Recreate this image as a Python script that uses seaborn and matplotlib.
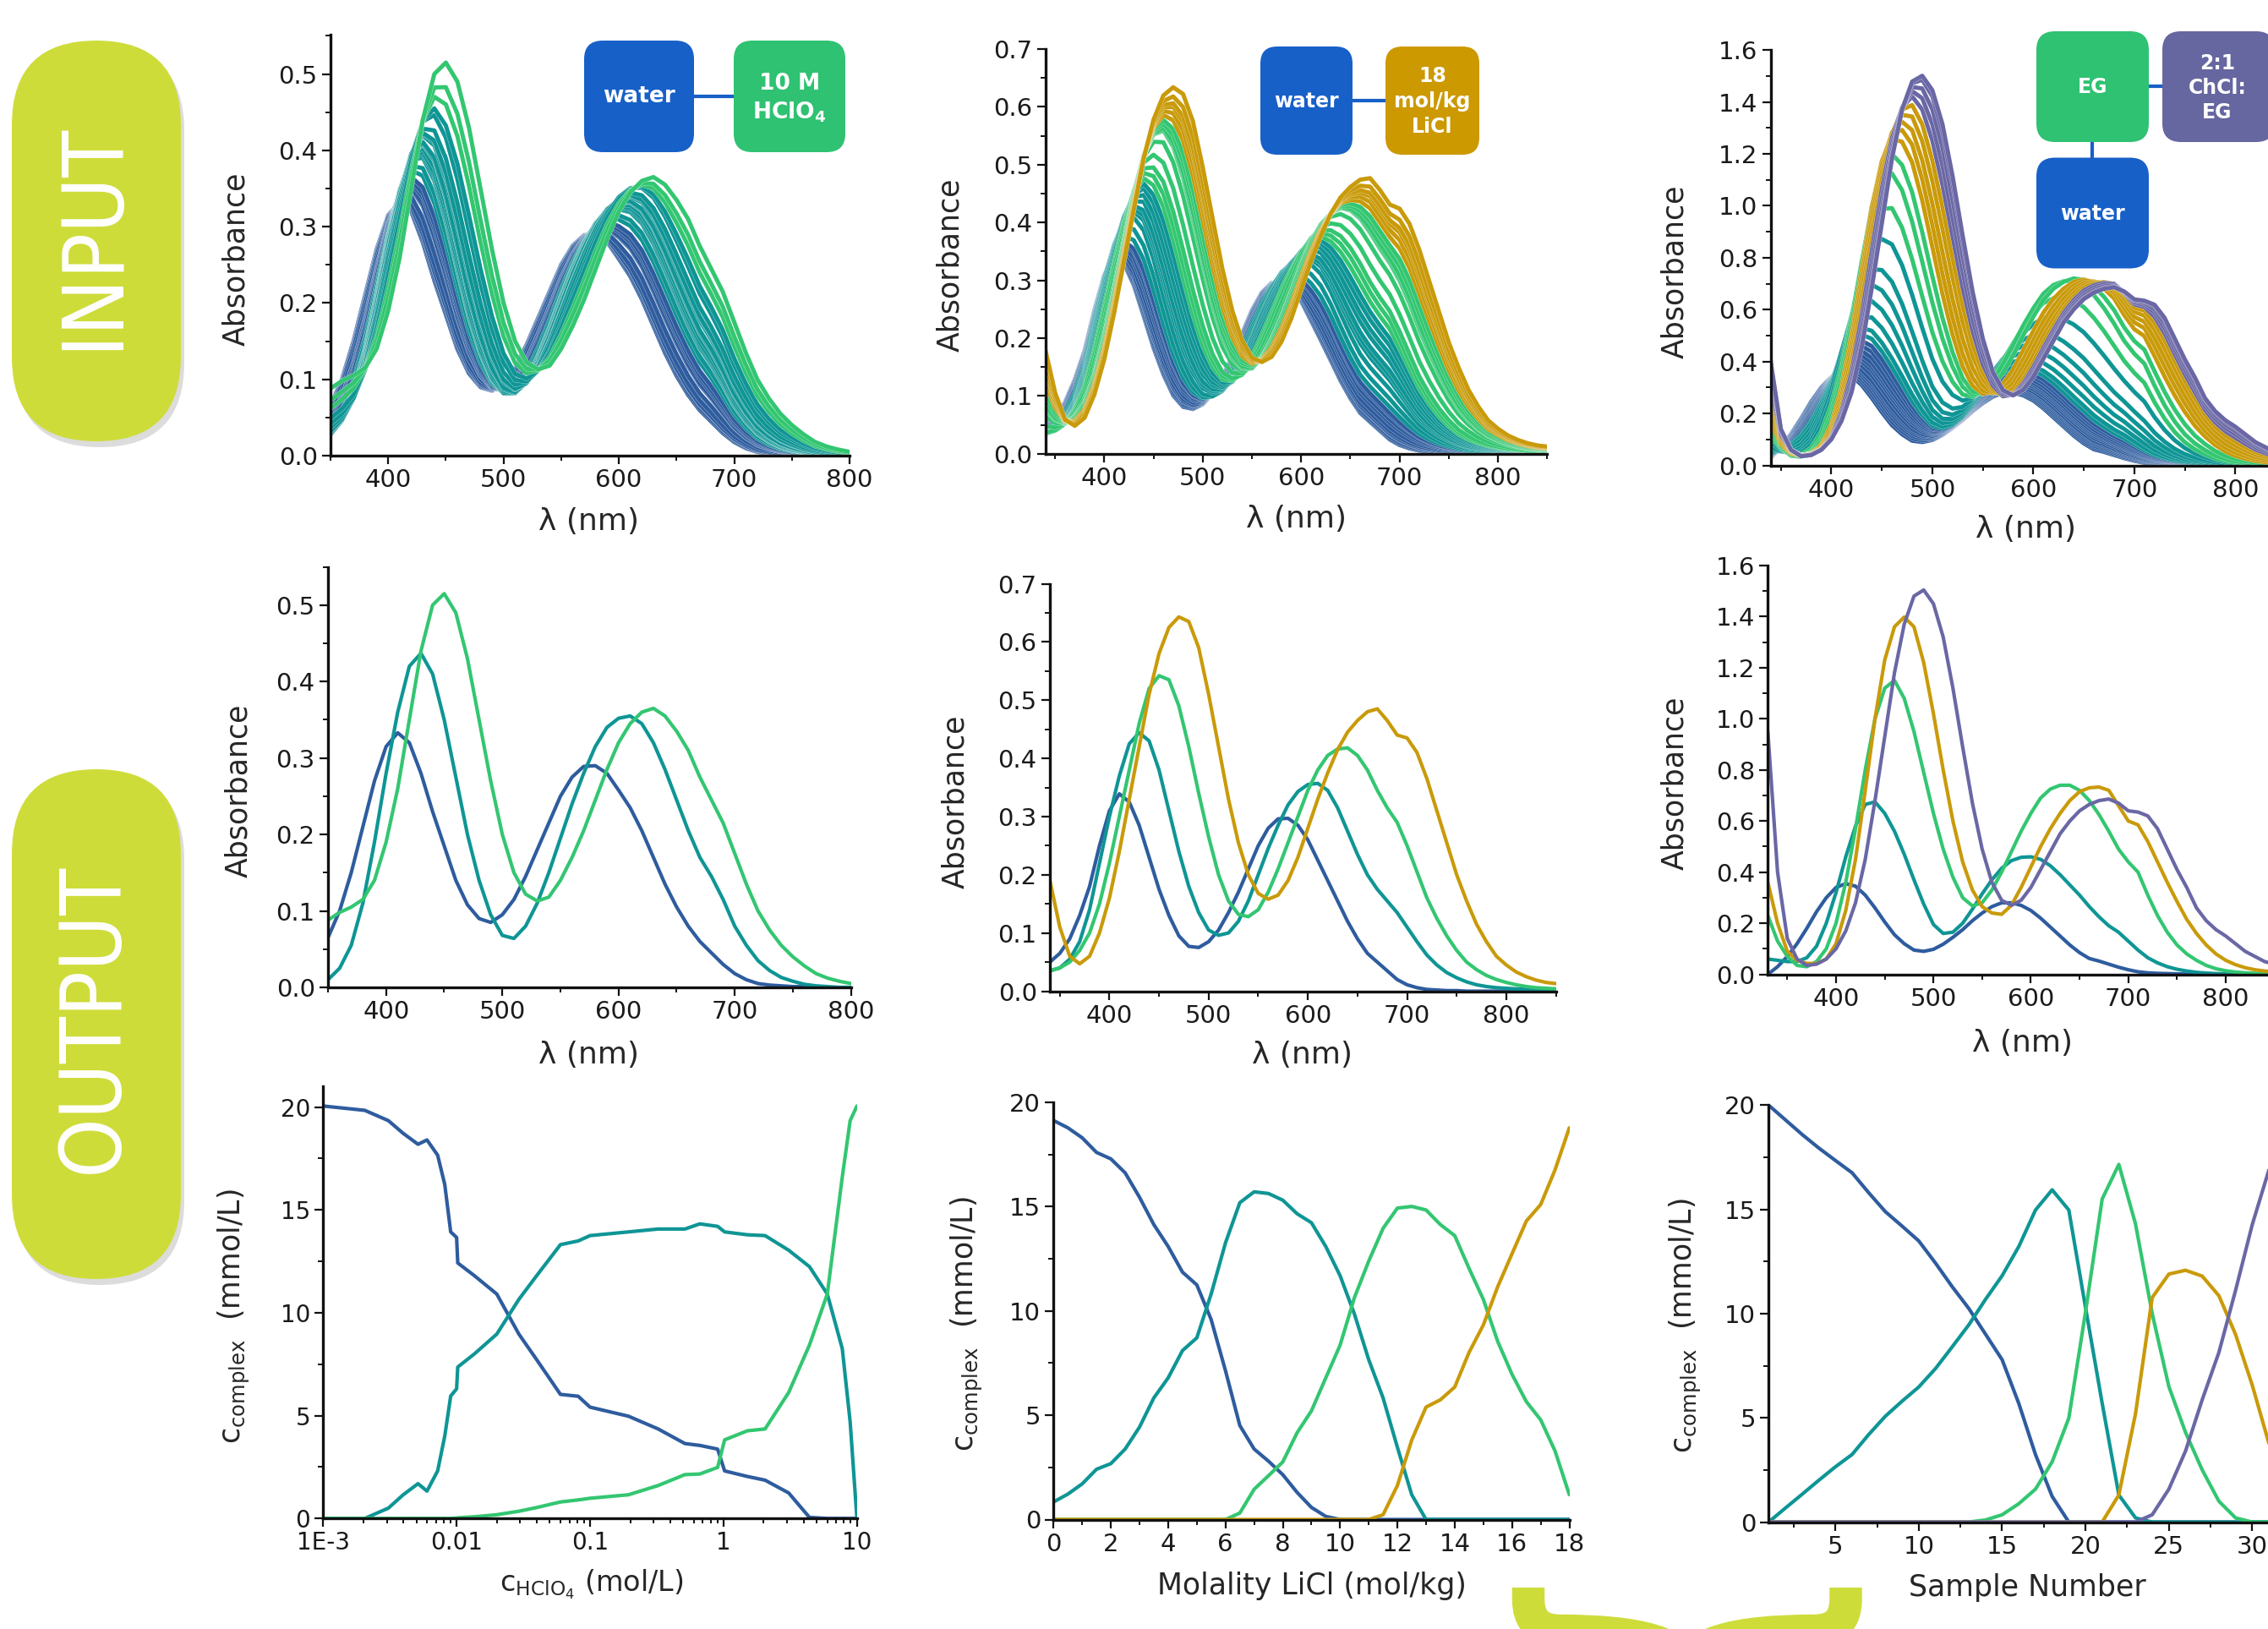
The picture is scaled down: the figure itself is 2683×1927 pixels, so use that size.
import numpy as np
import pandas as pd
import seaborn as sns
import matplotlib
matplotlib.use("Agg")
import matplotlib.pyplot as plt
import matplotlib.patheffects as pe
from matplotlib.patches import FancyBboxPatch, PathPatch
from matplotlib.path import Path
from matplotlib.ticker import MultipleLocator, FormatStrFormatter, LogLocator, NullFormatter

# ---------------- colours ----------------
BLUE = "#2E5C9E"
TEAL = "#0F9595"
GREEN = "#33C671"
GOLD = "#C99A0A"
PURPLE = "#6A67A5"
BOX_WATER = "#1760C8"
BOX_GREEN = "#2EC272"
BOX_GOLD = "#CC9900"
BOX_PURPLE = "#6666A0"
PILL = "#CEDC3A"

# ---------------- pure component spectra ----------------
wl_hclo4 = np.arange(350, 801, 10)
blue_h = [0.065, 0.100, 0.150, 0.210, 0.270,
          0.315, 0.333, 0.320, 0.280, 0.230,
          0.185, 0.140, 0.108, 0.090, 0.085,
          0.095, 0.115, 0.145, 0.180, 0.215,
          0.250, 0.275, 0.289, 0.290, 0.280,
          0.258, 0.235, 0.205, 0.170, 0.135,
          0.105, 0.080, 0.060, 0.045, 0.030,
          0.018, 0.010, 0.005, 0.003, 0.002,
          0.001, 0.001, 0.000, 0.000, 0.000,
          0.000]
teal_h = [0.010, 0.025, 0.055, 0.110, 0.190,
          0.280, 0.360, 0.420, 0.437, 0.410,
          0.350, 0.275, 0.200, 0.140, 0.095,
          0.068, 0.064, 0.080, 0.110, 0.150,
          0.195, 0.240, 0.280, 0.315, 0.340,
          0.352, 0.355, 0.345, 0.320, 0.285,
          0.245, 0.205, 0.170, 0.145, 0.115,
          0.080, 0.055, 0.035, 0.022, 0.013,
          0.008, 0.004, 0.002, 0.001, 0.000,
          0.000]
green_h = [0.088, 0.098, 0.105, 0.115, 0.140,
           0.190, 0.260, 0.350, 0.440, 0.500,
           0.515, 0.490, 0.430, 0.350, 0.270,
           0.200, 0.150, 0.122, 0.113, 0.118,
           0.140, 0.170, 0.205, 0.245, 0.285,
           0.320, 0.345, 0.360, 0.365, 0.355,
           0.335, 0.310, 0.275, 0.245, 0.215,
           0.175, 0.135, 0.100, 0.075, 0.055,
           0.040, 0.028, 0.018, 0.012, 0.008,
           0.005]

wl_licl = np.arange(340, 851, 10)
blue_l = [0.050, 0.065, 0.090, 0.130, 0.180,
          0.250, 0.310, 0.339, 0.325, 0.285,
          0.230, 0.175, 0.130, 0.095, 0.077,
          0.075, 0.085, 0.105, 0.135, 0.170,
          0.210, 0.250, 0.280, 0.296, 0.297,
          0.285, 0.260, 0.225, 0.190, 0.155,
          0.120, 0.090, 0.065, 0.050, 0.035,
          0.020, 0.011, 0.006, 0.003, 0.002,
          0.001, 0.001, 0.000, 0.000, 0.000,
          0.000, 0.000, 0.000, 0.000, 0.000,
          0.000, 0.000]
teal_l = [0.035, 0.040, 0.055, 0.085, 0.140,
          0.220, 0.300, 0.370, 0.425, 0.444,
          0.430, 0.380, 0.310, 0.240, 0.180,
          0.135, 0.105, 0.096, 0.100, 0.120,
          0.155, 0.200, 0.245, 0.285, 0.320,
          0.343, 0.355, 0.357, 0.345, 0.315,
          0.275, 0.235, 0.200, 0.175, 0.155,
          0.135, 0.110, 0.085, 0.062, 0.045,
          0.032, 0.023, 0.016, 0.011, 0.008,
          0.006, 0.005, 0.004, 0.004, 0.003,
          0.003, 0.003]
green_l = [0.035, 0.040, 0.050, 0.070, 0.100,
           0.150, 0.220, 0.300, 0.380, 0.460,
           0.520, 0.542, 0.535, 0.490, 0.420,
           0.340, 0.265, 0.200, 0.155, 0.132,
           0.128, 0.140, 0.170, 0.210, 0.255,
           0.300, 0.345, 0.380, 0.405, 0.416,
           0.418, 0.405, 0.380, 0.345, 0.315,
           0.290, 0.250, 0.205, 0.160, 0.125,
           0.095, 0.070, 0.050, 0.037, 0.027,
           0.020, 0.015, 0.011, 0.008, 0.006,
           0.005, 0.004]
gold_l = [0.190, 0.110, 0.060, 0.047, 0.060,
          0.100, 0.160, 0.240, 0.330, 0.420,
          0.510, 0.580, 0.625, 0.643, 0.635,
          0.590, 0.510, 0.420, 0.330, 0.255,
          0.200, 0.168, 0.158, 0.165, 0.190,
          0.230, 0.280, 0.330, 0.375, 0.415,
          0.445, 0.465, 0.480, 0.485, 0.465,
          0.440, 0.435, 0.410, 0.365, 0.310,
          0.255, 0.200, 0.155, 0.115, 0.085,
          0.060, 0.045, 0.033, 0.025, 0.019,
          0.015, 0.013]

wl_eg = np.arange(330, 851, 10)
blue_e = [0.000, 0.030, 0.070, 0.120, 0.180,
          0.245, 0.300, 0.340, 0.355, 0.345,
          0.310, 0.260, 0.205, 0.155, 0.120,
          0.095, 0.090, 0.098, 0.118, 0.145,
          0.175, 0.210, 0.240, 0.265, 0.280,
          0.280, 0.270, 0.250, 0.220, 0.185,
          0.150, 0.115, 0.085, 0.062, 0.052,
          0.040, 0.028, 0.018, 0.010, 0.006,
          0.004, 0.003, 0.002, 0.001, 0.001,
          0.000, 0.000, 0.000, 0.000, 0.000,
          0.000, 0.000, 0.000]
teal_e = [0.060, 0.055, 0.050, 0.050, 0.065,
          0.110, 0.200, 0.320, 0.460, 0.580,
          0.665, 0.675, 0.630, 0.560, 0.470,
          0.370, 0.275, 0.195, 0.160, 0.165,
          0.200, 0.255, 0.315, 0.370, 0.415,
          0.445, 0.458, 0.460, 0.450, 0.425,
          0.390, 0.350, 0.310, 0.265, 0.225,
          0.190, 0.165, 0.130, 0.095, 0.065,
          0.045, 0.030, 0.020, 0.013, 0.008,
          0.005, 0.003, 0.002, 0.002, 0.001,
          0.001, 0.000, 0.000]
green_e = [0.230, 0.130, 0.070, 0.035, 0.030,
           0.050, 0.100, 0.200, 0.360, 0.570,
           0.800, 1.000, 1.120, 1.150, 1.080,
           0.950, 0.790, 0.630, 0.490, 0.380,
           0.300, 0.268, 0.280, 0.330, 0.400,
           0.480, 0.560, 0.630, 0.690, 0.725,
           0.740, 0.740, 0.720, 0.680, 0.625,
           0.560, 0.490, 0.440, 0.400, 0.310,
           0.230, 0.165, 0.115, 0.080, 0.055,
           0.035, 0.022, 0.014, 0.009, 0.006,
           0.004, 0.003, 0.002]
gold_e = [0.360, 0.200, 0.090, 0.055, 0.043,
          0.042, 0.060, 0.120, 0.250, 0.450,
          0.720, 1.000, 1.230, 1.360, 1.398,
          1.360, 1.220, 1.020, 0.800, 0.600,
          0.440, 0.330, 0.265, 0.240, 0.235,
          0.270, 0.340, 0.420, 0.500, 0.570,
          0.630, 0.680, 0.715, 0.730, 0.733,
          0.720, 0.660, 0.600, 0.585, 0.520,
          0.440, 0.360, 0.285, 0.215, 0.160,
          0.115, 0.080, 0.055, 0.038, 0.026,
          0.018, 0.013, 0.010]
purple_e = [0.950, 0.400, 0.140, 0.060, 0.035,
            0.040, 0.060, 0.100, 0.170, 0.280,
            0.450, 0.680, 0.930, 1.180, 1.370,
            1.480, 1.504, 1.450, 1.320, 1.120,
            0.890, 0.670, 0.490, 0.360, 0.290,
            0.270, 0.290, 0.340, 0.410, 0.480,
            0.550, 0.600, 0.640, 0.665, 0.680,
            0.686, 0.670, 0.640, 0.635, 0.620,
            0.570, 0.490, 0.410, 0.340, 0.260,
            0.210, 0.175, 0.150, 0.120, 0.090,
            0.070, 0.050, 0.040]

# ---------------- concentration profiles (bottom row) ----------------
hclo4_c = [0.001, 0.00205, 0.00308, 0.00398, 0.00514, 0.0060, 0.00721, 0.00815,
           0.00903, 0.0100, 0.0102, 0.0136, 0.020, 0.0293, 0.0398, 0.060,
           0.0815, 0.100, 0.194, 0.324, 0.514, 0.664, 0.904, 1.02,
           1.51, 2.05, 3.08, 4.41, 6.0, 7.77, 8.9, 10.0]
blue_hc = [20.05, 19.84, 19.34, 18.72, 18.19, 18.40, 17.66, 16.24,
           13.93, 13.66, 12.42, 11.80, 10.91, 8.96, 7.72, 6.03,
           5.94, 5.41, 4.97, 4.35, 3.64, 3.55, 3.37, 2.31,
           2.04, 1.86, 1.24, 0.05, 0, 0, 0, 0]
teal_hc = [0, 0, 0.5, 1.15, 1.69, 1.33, 2.31, 4.0,
           5.95, 6.3, 7.36, 8.0, 8.96, 10.65, 11.8, 13.31,
           13.49, 13.75, 13.93, 14.07, 14.07, 14.32, 14.2, 13.93,
           13.79, 13.75, 13.04, 12.24, 10.91, 8.25, 4.7, 0]
green_hc = [0, 0, 0, 0, 0, 0, 0, 0,
            0, 0.02, 0.03, 0.08, 0.18, 0.35, 0.53, 0.8,
            0.9, 0.98, 1.15, 1.6, 2.13, 2.16, 2.48, 3.82,
            4.26, 4.35, 6.12, 8.43, 10.91, 16.6, 19.34, 20.05]

licl_m = [0, 0.5, 1, 1.5, 2, 2.5, 3, 3.5, 4, 4.5, 5, 5.5, 6, 6.5, 7, 7.5, 8, 8.5, 9,
          9.5, 10, 10.5, 11, 11.5, 12, 12.5, 13, 13.5, 14, 14.5, 15, 15.5, 16, 16.5,
          17, 17.5, 18]
blue_lc = [19.13, 18.78, 18.30, 17.60, 17.29, 16.62, 15.45, 14.14, 13.09, 11.86,
           11.25, 9.59, 7.14, 4.51, 3.38, 2.80, 2.15, 1.30, 0.58, 0.15,
           0, 0, 0, 0, 0, 0, 0, 0, 0, 0, 0, 0, 0, 0, 0, 0, 0]
teal_lc = [0.84, 1.22, 1.71, 2.41, 2.68, 3.38, 4.43, 5.83, 6.79, 8.10,
           8.71, 10.81, 13.26, 15.19, 15.71, 15.63, 15.31, 14.66, 14.23, 13.09,
           11.69, 9.85, 7.66, 5.83, 3.46, 1.19,
           0, 0, 0, 0, 0, 0, 0, 0, 0, 0, 0]
green_lc = [0, 0, 0, 0, 0, 0, 0, 0, 0, 0, 0, 0, 0,
            0.31, 1.45, 2.10, 2.76, 4.16, 5.21, 6.79, 8.36, 10.64, 12.39, 13.96,
            14.93, 15.01, 14.84, 14.14, 13.61, 12.04, 10.55, 8.54, 6.96, 5.65,
            4.78, 3.29, 1.19]
gold_lc = [0, 0, 0, 0, 0, 0, 0, 0, 0, 0, 0, 0, 0, 0, 0, 0, 0, 0, 0, 0, 0, 0, 0,
           0.23, 1.63, 3.81, 5.39, 5.74, 6.35, 8.01, 9.33, 11.16, 12.74, 14.31,
           15.10, 16.76, 18.78]

sample_n = list(range(1, 34))
blue_sc = [20.0, 19.3, 18.6, 17.95, 17.35, 16.76, 15.8, 14.89, 14.2, 13.49,
           12.43, 11.3, 10.25, 9.02, 7.79, 5.69, 3.24, 1.23,
           0, 0, 0, 0, 0, 0, 0, 0, 0, 0, 0, 0, 0, 0, 0]
teal_sc = [0, 0.67, 1.33, 2.0, 2.65, 3.24, 4.2, 5.08, 5.8, 6.48,
           7.36, 8.4, 9.46, 10.68, 11.82, 13.22, 14.97, 15.94, 14.97, 10.3,
           5.7, 1.3, 0.2, 0, 0, 0, 0, 0, 0, 0, 0, 0, 0]
green_sc = [0, 0, 0, 0, 0, 0, 0, 0, 0, 0, 0, 0, 0,
            0.1, 0.35, 0.88, 1.58, 2.89, 4.99, 10.07, 15.5, 17.16, 14.3, 10.0,
            6.5, 4.3, 2.5, 1.0, 0.2, 0, 0, 0, 0]
gold_sc = [0, 0, 0, 0, 0, 0, 0, 0, 0, 0, 0, 0, 0, 0, 0, 0, 0, 0, 0, 0, 0,
           1.3, 5.2, 10.77, 11.9, 12.08, 11.8, 10.86, 9.0, 6.57, 3.77, 1.3, 0.2]
purple_sc = [0, 0, 0, 0, 0, 0, 0, 0, 0, 0, 0, 0, 0, 0, 0, 0, 0, 0, 0, 0, 0, 0, 0,
             0.35, 1.58, 3.41, 5.87, 8.14, 11.12, 14.27, 16.9, 18.8, 19.8]

# ---------------- setup ----------------
sns.set_style("ticks")
plt.rcParams["font.family"] = ["DejaVu Sans"]
plt.rcParams["mathtext.default"] = "regular"
plt.rcParams["text.color"] = "#1a1a1a"

W, H = 2683, 1927
fig = plt.figure(figsize=(W / 100, H / 100), dpi=100)


def add_ax(x0, x1, y0, y1):
    # pixel box -> figure fraction (y0 is the top edge)
    return fig.add_axes([x0 / W, 1 - y1 / H, (x1 - x0) / W, (y1 - y0) / H])


def style(ax, xlim, ylim, xmaj, xmin, ymaj, ymin, yfmt, lsize=21):
    ax.set_xlim(*xlim)
    ax.set_ylim(*ylim)
    ax.set_facecolor("none")
    for s in ["top", "right"]:
        ax.spines[s].set_visible(False)
    for s in ["left", "bottom"]:
        ax.spines[s].set_linewidth(2.4)
        ax.spines[s].set_color("#111111")
    if xmaj is not None:
        ax.xaxis.set_major_locator(MultipleLocator(xmaj))
        ax.xaxis.set_minor_locator(MultipleLocator(xmin))
    ax.yaxis.set_major_locator(MultipleLocator(ymaj))
    ax.yaxis.set_minor_locator(MultipleLocator(ymin))
    ax.yaxis.set_major_formatter(FormatStrFormatter(yfmt))
    ax.tick_params(which="major", direction="out", length=7, width=1.6,
                   labelsize=lsize, pad=4, color="#111111", labelcolor="#1a1a1a")
    ax.tick_params(which="minor", direction="out", length=4, width=1.4, color="#111111")


def labels(ax, xl, yl, xpos, ypos, xs=26, ys=25):
    ax.set_xlabel(xl, fontsize=xs)
    ax.set_ylabel(yl, fontsize=ys)
    ax.xaxis.set_label_coords(*xpos)
    ax.yaxis.set_label_coords(*ypos)


def long_df(x, series):
    frames = [pd.DataFrame({"x": x, "y": v, "comp": k}) for k, v in series.items()]
    return pd.concat(frames, ignore_index=True)


def mixtures(wl, spectra, concs, colors):
    # each measured spectrum = concentration-weighted mix of the pure components
    names = list(spectra)
    S = np.array([spectra[n] for n in names])
    C = np.array([concs[n] for n in names])
    A = (C / C.sum(axis=0)).T @ S
    frames, pal = [], {}
    for i in range(A.shape[0]):
        frames.append(pd.DataFrame({"wl": wl, "A": A[i], "sample": i}))
        pal[i] = colors[names[int(np.argmax(C[:, i]))]]
    return pd.concat(frames, ignore_index=True), pal


def draw_input(ax, wl, spectra, concs, colors):
    df, pal = mixtures(wl, spectra, concs, colors)
    sns.lineplot(data=df, x="wl", y="A", hue="sample", palette=pal, estimator=None,
                 legend=False, linewidth=3.6, ax=ax)
    for ln in ax.lines:
        ln.set_path_effects([pe.Stroke(linewidth=4.3, foreground="white", alpha=0.55),
                             pe.Normal()])


def draw_output(ax, x, series, colors, lw=3.0):
    df = long_df(x, series)
    sns.lineplot(data=df, x="x", y="y", hue="comp", palette=colors, estimator=None,
                 legend=False, linewidth=lw, ax=ax, sort=False)


cols_h = {"blue": BLUE, "teal": TEAL, "green": GREEN}
cols_l = {"blue": BLUE, "teal": TEAL, "green": GREEN, "gold": GOLD}
cols_e = {"blue": BLUE, "teal": TEAL, "green": GREEN, "gold": GOLD, "purple": PURPLE}

spec_h = {"blue": blue_h, "teal": teal_h, "green": green_h}
spec_l = {"blue": blue_l, "teal": teal_l, "green": green_l, "gold": gold_l}
spec_e = {"blue": blue_e, "teal": teal_e, "green": green_e, "gold": gold_e, "purple": purple_e}
conc_h = {"blue": blue_hc, "teal": teal_hc, "green": green_hc}
conc_l = {"blue": blue_lc, "teal": teal_lc, "green": green_lc, "gold": gold_lc}
conc_e = {"blue": blue_sc, "teal": teal_sc, "green": green_sc, "gold": gold_sc, "purple": purple_sc}

LAM = "λ (nm)"
CCOMP = r"c$_{complex}$  (mmol/L)"

# ---------------- INPUT row ----------------
ax1 = add_ax(391, 1005, 41.5, 539)
draw_input(ax1, wl_hclo4, spec_h, conc_h, cols_h)
style(ax1, (350, 800), (0, 0.551), 100, 50, 0.1, 0.05, "%.1f")
labels(ax1, LAM, "Absorbance", (0.497, -0.123), (-0.155, 0.467))

ax2 = add_ax(1236.5, 1830.4, 58, 536.8)
draw_input(ax2, wl_licl, spec_l, conc_l, cols_l)
style(ax2, (340, 850), (0, 0.7), 100, 50, 0.1, 0.05, "%.1f")
labels(ax2, LAM, "Absorbance", (0.5, -0.126), (-0.161, 0.467))

ax3 = add_ax(2094.8, 2704, 59.3, 550.5)
draw_input(ax3, wl_eg, spec_e, conc_e, cols_e)
style(ax3, (340, 850), (0, 1.6), 100, 50, 0.2, 0.1, "%.1f")
labels(ax3, LAM, "Absorbance", (0.496, -0.119), (-0.159, 0.467))

# ---------------- OUTPUT spectra ----------------
ax4 = add_ax(388, 1006.7, 670.6, 1168)
draw_output(ax4, wl_hclo4, spec_h, cols_h)
style(ax4, (350, 800), (0, 0.55), 100, 50, 0.1, 0.05, "%.1f")
labels(ax4, LAM, "Absorbance", (0.499, -0.127), (-0.144, 0.468))

ax5 = add_ax(1242, 1840.6, 690.5, 1172.5)
draw_output(ax5, wl_licl, spec_l, cols_l)
style(ax5, (340, 850), (0, 0.7), 100, 50, 0.1, 0.05, "%.1f")
labels(ax5, LAM, "Absorbance", (0.499, -0.122), (-0.159, 0.465))

ax6 = add_ax(2091.3, 2690.6, 668.9, 1152.6)
draw_output(ax6, wl_eg, spec_e, cols_e)
style(ax6, (330, 850), (0, 1.6), 100, 50, 0.2, 0.1, "%.1f")
labels(ax6, LAM, "Absorbance", (0.502, -0.133), (-0.156, 0.467))

# ---------------- OUTPUT concentrations ----------------
ax7 = add_ax(382.3, 1013.7, 1284.5, 1796.2)
ax7.set_xscale("log")
draw_output(ax7, hclo4_c, conc_h, cols_h)
style(ax7, (1e-3, 10), (0, 21.03), None, None, 5, 2.5, "%d", lsize=20)
ax7.set_xticks([1e-3, 1e-2, 1e-1, 1, 10])
ax7.set_xticklabels(["1E-3", "0.01", "0.1", "1", "10"])
ax7.xaxis.set_minor_locator(LogLocator(base=10, subs=np.arange(2, 10)))
ax7.xaxis.set_minor_formatter(NullFormatter())
labels(ax7, r"c$_{HClO_4}$ (mol/L)", CCOMP, (0.503, -0.114), (-0.134, 0.468), xs=24)

ax8 = add_ax(1246.3, 1856.5, 1304, 1797.5)
draw_output(ax8, licl_m, conc_l, cols_l)
style(ax8, (0, 18), (0, 20), 2, 1, 5, 2.5, "%d")
labels(ax8, "Molality LiCl (mol/kg)", CCOMP, (0.501, -0.124), (-0.133, 0.469), xs=25)

ax9 = add_ax(2092.3, 2763, 1307.4, 1800.5)
draw_output(ax9, sample_n, conc_e, cols_e)
style(ax9, (1, 35), (0, 20), 5, 2.5, 5, 2.5, "%d")
labels(ax9, "Sample Number", CCOMP, (0.456, -0.123), (-0.115, 0.471), xs=25)

# ---------------- overlay: pills, boxes, brace ----------------
ov = fig.add_axes([0, 0, 1, 1])
ov.set_xlim(0, W)
ov.set_ylim(H, 0)
ov.axis("off")
ov.set_zorder(10)
ov.patch.set_alpha(0)


def rbox(x, y, w, h, r, color, z=2):
    ov.add_patch(FancyBboxPatch((x, y), w, h, boxstyle=f"round,pad=0,rounding_size={r}",
                                facecolor=color, edgecolor="none", zorder=z))


def btext(x, y, s, size):
    ov.text(x, y, s, color="white", fontsize=size, fontweight="bold",
            ha="center", va="center", zorder=5)


# pills with a soft shadow
for (py, ph, word, cy) in [(48, 474, "INPUT", 279), (910, 603, "OUTPUT", 1205)]:
    rbox(18, py + 7, 200, ph, 100, "#dcdcdc", z=1)
    rbox(14, py, 200, ph, 100, PILL, z=2)
    ov.text(111, cy, word, color="white", fontsize=72, rotation=90,
            ha="center", va="center", fontstretch="condensed", zorder=5)

# panel 1 boxes
ov.plot([821, 868], [114, 114], color=BOX_WATER, lw=3, zorder=1.5)
rbox(691, 48, 130, 132, 22, BOX_WATER)
rbox(868, 48, 132, 132, 22, BOX_GREEN)
btext(756, 114, "water", 19)
btext(934, 99, "10 M", 19)
btext(934, 133, r"HClO$_\mathbf{4}$", 19)

# panel 2 boxes
ov.plot([1600, 1639], [119, 119], color=BOX_WATER, lw=3, zorder=1.5)
rbox(1491, 55, 109, 128, 20, BOX_WATER)
rbox(1639, 55, 111, 128, 20, BOX_GOLD)
btext(1545.5, 120, "water", 17)
btext(1694.5, 90, "18", 17)
btext(1694.5, 120, "mol/kg", 17)
btext(1694.5, 150, "LiCl", 17)

# panel 3 boxes
ov.plot([2542, 2558], [101.6, 101.6], color=BOX_WATER, lw=3, zorder=1.5)
ov.plot([2475, 2475], [168, 186.5], color=BOX_WATER, lw=3, zorder=1.5)
rbox(2409, 37, 133, 131, 22, BOX_GREEN)
rbox(2558, 37, 133, 131, 22, BOX_PURPLE)
rbox(2409, 186.5, 133, 131, 22, BOX_WATER)
btext(2475.5, 103, "EG", 17)
btext(2623, 74.6, "2:1", 17)
btext(2623, 103.6, "ChCl:", 17)
btext(2623, 132.6, "EG", 17)
btext(2475.5, 252.8, "water", 17)

# brace at the bottom
MV, LN, C3 = Path.MOVETO, Path.LINETO, Path.CURVE3
cx = 1995.75
left = [(1808, 1878), (1808, 1892), (1808, 1929), (1845, 1929), (1955, 1929),
        (1990, 1929), (cx, 1975)]
right = [(2 * cx - x, y) for x, y in left]
codes = [MV, LN, C3, C3, LN, C3, C3]
for pts in (left, right):
    ov.add_patch(PathPatch(Path(pts, codes), fill=False, lw=27.7, edgecolor=PILL,
                           capstyle="butt", joinstyle="round", zorder=2))

fig.savefig("out.png", dpi=100)
